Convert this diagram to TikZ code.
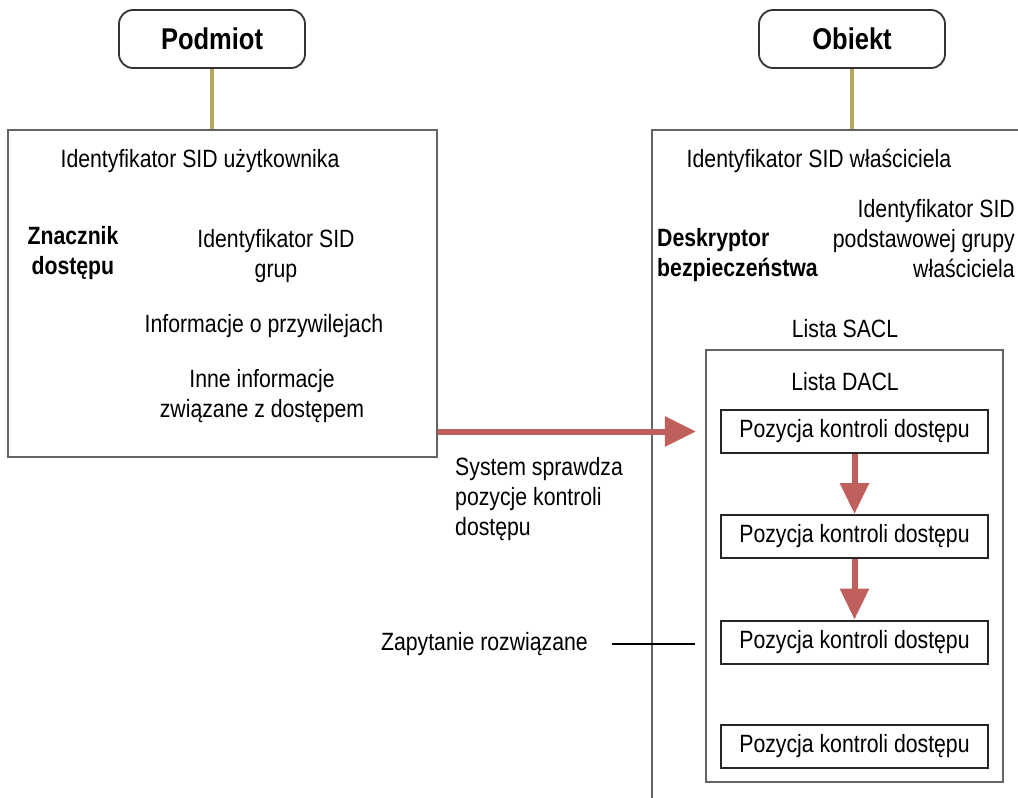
\documentclass[tikz,border=0pt]{standalone}
\usepackage{fontspec}
\setmainfont{Liberation Sans}[FakeStretch=0.85]
\usetikzlibrary{arrows.meta}
\definecolor{olivel}{RGB}{181,166,96}
\definecolor{arrowred}{RGB}{192,96,92}
\definecolor{framegray}{RGB}{100,100,100}
\begin{document}
\begin{tikzpicture}[x=1pt,y=-1pt,
  frame/.style={draw=framegray, line width=2.2pt, inner sep=0pt},
  ace/.style={draw=black!85, line width=2pt, minimum width=267pt, minimum height=43pt, inner sep=0pt, font=\fontsize{25}{30}\selectfont},
  titlebox/.style={draw=black!80, line width=1.8pt, rounded corners=14pt, minimum width=186pt, minimum height=58pt, inner sep=0pt, font=\fontsize{30}{36}\selectfont\bfseries},
  txt/.style={font=\fontsize{25}{30}\selectfont, align=center, inner sep=0pt},
  btxt/.style={font=\fontsize{25}{30}\selectfont\bfseries, align=left, inner sep=0pt},
  stem/.style={draw=olivel, line width=4pt},
  bigarrow/.style={draw=arrowred, line width=6pt, -{Triangle[length=31pt,width=29pt,fill=arrowred]}},
  downarrow/.style={draw=arrowred, line width=6pt, -{Triangle[length=31pt,width=28pt,fill=arrowred]}},
  pointer/.style={draw=black, line width=1.5pt}]
\useasboundingbox (0,0) rectangle (1018,798);
\clip (0,0) rectangle (1018,798);
\fill[white] (0,0) rectangle (1018,798);

% title boxes
\node[titlebox] (podmiot) at (212,39) {Podmiot};
\node[titlebox] (obiekt) at (852,39) {Obiekt};

% main frames
\node[frame, minimum width=429pt, minimum height=327pt] (token) at (222.5,293.5) {};
\node[frame, minimum width=380pt, minimum height=690pt] (sd) at (842,475) {};
\node[frame, minimum width=297pt, minimum height=432pt] (sacl) at (854.5,566) {};

% stems
\draw[stem] (podmiot.south) -- (podmiot.south |- token.north);
\draw[stem] (obiekt.south) -- (obiekt.south |- sd.north);

% token texts
\node[txt] (usid) at (200,161) {Identyfikator SID użytkownika};
\node[btxt] (tokname) at (73,253) {Znacznik\\\hspace*{4pt}dostępu};
\node[txt] (gsid) at (276,256) {Identyfikator SID\\grup};
\node[txt] (priv) at (264,326) {Informacje o przywilejach};
\node[txt] (other) at (262,396) {Inne informacje\\związane z dostępem};

% security descriptor texts
\node[txt] (osid) at (819,161) {Identyfikator SID właściciela};
\node[btxt, anchor=west] (sdname) at (657,255) {Deskryptor\\bezpieczeństwa};
\node[txt, align=right, anchor=east] (pgsid) at (1015,239) {Identyfikator SID\\podstawowej grupy\\właściciela};
\node[txt] (sacllbl) at (845,329) {Lista SACL};
\node[txt] (dacllbl) at (845,382) {Lista DACL};

% ACEs
\node[ace] (ace1) at (854.5,431.5) {Pozycja kontroli dostępu};
\node[ace] (ace2) at (854.5,536.5) {Pozycja kontroli dostępu};
\node[ace] (ace3) at (854.5,642) {Pozycja kontroli dostępu};
\node[ace] (ace4) at (854.5,746.5) {Pozycja kontroli dostępu};

% arrows
\coordinate (tip) at ([xshift=-9pt]sacl.west |- ace1.west);
\draw[bigarrow] (token.east |- tip) -- (tip);
\draw[downarrow] (ace1.south) -- (ace2.north);
\draw[downarrow] (ace2.south) -- (ace3.north);

% side labels
\node[txt, align=left, anchor=west] (check) at (455,499) {System sprawdza\\pozycje kontroli\\dostępu};
\node[txt, anchor=east] (resolved) at (588,644) {Zapytanie rozwiązane};
\coordinate (pstart) at ([xshift=24pt]resolved.east);
\coordinate (pend) at ([xshift=-10pt]sacl.west |- resolved.east);
\draw[pointer] (pstart) -- (pend);
\end{tikzpicture}
\end{document}
